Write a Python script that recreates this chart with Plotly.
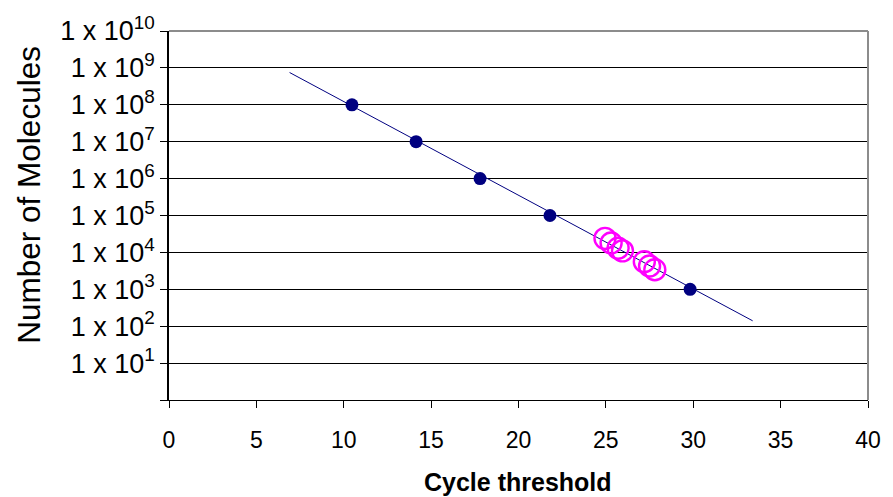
import plotly.graph_objects as go

# Standard curve (filled navy dots)
std_ct = [10.47, 14.14, 17.8, 21.8, 29.82]
std_mol = [1e8, 1e7, 1e6, 1e5, 1e3]

# Samples (open magenta circles)
sample_ct = [24.95, 25.3, 25.7, 25.95, 27.2, 27.5, 27.8]
sample_mol = [2.4e4, 1.8e4, 1.3e4, 1.1e4, 5.6e3, 4.3e3, 3.4e3]

# Trend line end points
trend_ct = [6.9, 33.4]
trend_mol = [7.5e8, 1.4e2]

# Axis ticks
x_ticks = [0, 5, 10, 15, 20, 25, 30, 35, 40]
y_exps = list(range(0, 11))
y_ticktext = [""] + [f"1 x 10<sup>{n}</sup>" for n in y_exps[1:]]

FONT = "Liberation Sans, Arial, sans-serif"

fig = go.Figure()
fig.add_trace(go.Scatter(x=trend_ct, y=trend_mol, mode="lines",
                         line=dict(color="#000080", width=1), showlegend=False, hoverinfo="skip"))
fig.add_trace(go.Scatter(x=std_ct, y=std_mol, mode="markers",
                         marker=dict(color="#000080", size=13, line=dict(width=0)), showlegend=False))
fig.add_trace(go.Scatter(x=sample_ct, y=sample_mol, mode="markers",
                         marker=dict(symbol="circle-open", color="#FF00FF", size=21, line=dict(width=2.4)),
                         showlegend=False))

fig.update_layout(
    width=893, height=497,
    margin=dict(l=169, r=16, t=24, b=97),
    plot_bgcolor="white", paper_bgcolor="white",
    font=dict(family=FONT, color="black"),
    xaxis=dict(range=[0, 40], tickvals=x_ticks, ticks="outside", ticklen=7, tickcolor="black",
               tickwidth=1, showline=True, linecolor="black", linewidth=1, showgrid=False,
               zeroline=False, tickfont=dict(size=23, family=FONT), ticklabelstandoff=12),
    yaxis=dict(type="log", range=[0, 10], tickvals=[10 ** n for n in y_exps], ticktext=y_ticktext,
               ticks="outside", ticklen=7, tickcolor="black", tickwidth=1,
               showline=True, linecolor="black", linewidth=1.5,
               showgrid=True, gridcolor="black", gridwidth=1, zeroline=False,
               tickfont=dict(size=27, family=FONT)),
    shapes=[
        dict(type="line", xref="paper", yref="paper", x0=0, x1=1, y0=1, y1=1,
             line=dict(color="#8c8c8c", width=2), layer="above"),
        dict(type="line", xref="paper", yref="paper", x0=1, x1=1, y0=0, y1=1,
             line=dict(color="#8c8c8c", width=2), layer="above"),
    ],
    annotations=[
        dict(text="Number of Molecules", xref="paper", yref="paper",
             x=(27 - 169) / 708, y=(400 - 191) / 376, xanchor="center", yanchor="middle",
             textangle=-90, showarrow=False, font=dict(size=31.5, family=FONT, color="black")),
        dict(text="<b>Cycle threshold</b>", xref="paper", yref="paper",
             x=(522 - 169) / 708, y=-(484 - 400) / 376, xanchor="center", yanchor="middle",
             showarrow=False, font=dict(size=25, family=FONT, color="black")),
    ],
)

fig.write_html("out.html")
